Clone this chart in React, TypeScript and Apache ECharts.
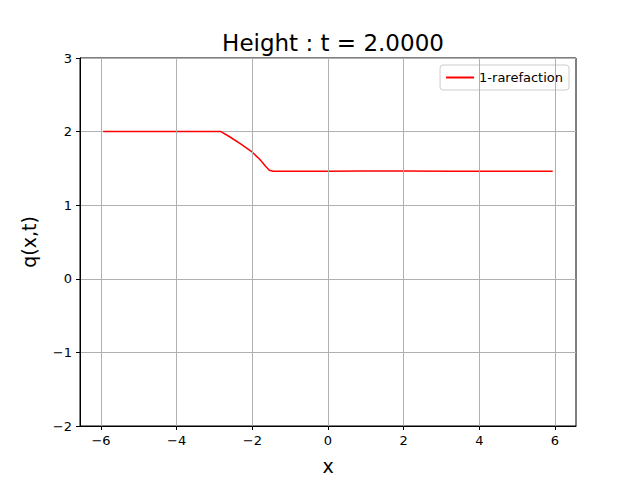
import { useEffect, useRef } from 'react';
import * as echarts from 'echarts';

const xs = [-5.94, -4, -2.83, -2.6, -2.3, -2.0, -1.8, -1.65, -1.55, -1.45, 0, 0.9, 2, 3.3, 4.5, 5.94];
const hs = [2.0, 2.0, 2.0, 1.93, 1.83, 1.72, 1.62, 1.53, 1.475, 1.46, 1.46, 1.465, 1.465, 1.46, 1.46, 1.46];
const xTicks = [-6, -4, -2, 0, 2, 4, 6];

const fmt = (v: number) => (v < 0 ? '\u2212' + Math.abs(v) : String(v));

export default function App() {
  const container = useRef<HTMLDivElement>(null);

  useEffect(() => {
    if (!container.current) return;
    const chart = echarts.init(container.current, null, { renderer: 'svg' });
    chart.setOption({
      animation: false,
      textStyle: { fontFamily: 'DejaVu Sans' },
      title: {
        text: 'Height : t = 2.0000',
        left: 328, top: 26, textAlign: 'center',
        textStyle: { fontSize: 23, fontWeight: 'normal', color: '#000', fontFamily: 'DejaVu Sans' },
      },
      legend: {
        right: 71, top: 65, itemWidth: 28, itemHeight: 2, itemGap: 8,
        borderColor: '#ccc', borderWidth: 1, borderRadius: 3, padding: [6, 6, 6, 6],
        textStyle: { fontSize: 13, color: '#000' },
        data: [{ name: '1-rarefaction', icon: 'rect' }],
      },
      grid: { left: 80, right: 64, top: 58, bottom: 53, show: true, borderColor: '#000', borderWidth: 1 },
      xAxis: {
        type: 'value', min: -6.555, max: 6.555,
        name: 'x', nameLocation: 'middle', nameGap: 30,
        nameTextStyle: { fontSize: 19, color: '#000' },
        axisLine: { onZero: false, lineStyle: { color: '#000' } },
        axisTick: { show: true, customValues: xTicks, length: 4, lineStyle: { color: '#000' } },
        axisLabel: { customValues: xTicks, formatter: fmt, color: '#000', fontSize: 13 },
        splitLine: { show: false },
      },
      yAxis: {
        type: 'value', min: -2, max: 3, interval: 1,
        name: 'q(x,t)', nameLocation: 'middle', nameGap: 42,
        nameTextStyle: { fontSize: 19, color: '#000' },
        axisLine: { show: true, onZero: false, lineStyle: { color: '#000' } },
        axisTick: { show: true, length: 4, lineStyle: { color: '#000' } },
        axisLabel: { formatter: fmt, color: '#000', fontSize: 13 },
        splitLine: { lineStyle: { color: '#b0b0b0' } },
      },
      series: [
        {
          type: 'line', name: '1-rarefaction',
          data: xs.map((x, i) => [x, hs[i]]),
          showSymbol: false, color: 'red', lineStyle: { width: 1.5, color: 'red' },
          markLine: {
            silent: true, symbol: 'none', label: { show: false },
            lineStyle: { color: '#b0b0b0', type: 'solid', width: 1 },
            data: xTicks.map(v => ({ xAxis: v })),
          },
          z: 3,
        },
      ],
    });
    return () => chart.dispose();
  }, []);

  return <div ref={container} style={{ position: 'absolute', left: 0, top: 0, width: 640, height: 480, background: '#fff' }} />;
}
